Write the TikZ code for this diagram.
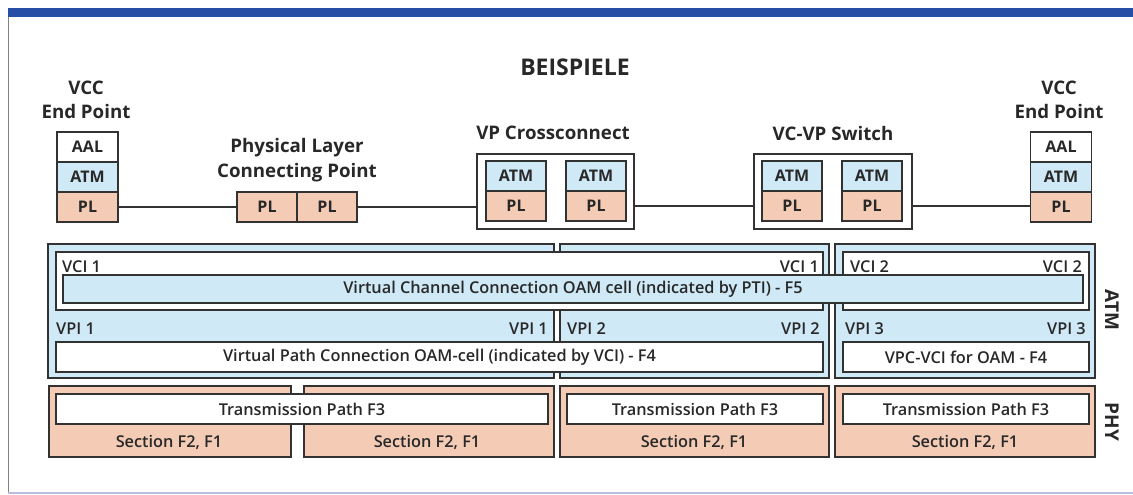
\documentclass[tikz,border=0pt]{standalone}
\usepackage{fontspec}
\setmainfont{Open Sans}
\IfFontExistsTF{Open Sans SemiBold}{\newfontfamily\medsans{Open Sans SemiBold}}{%
  \IfFontExistsTF{Open Sans Semibold}{\newfontfamily\medsans{Open Sans Semibold}}{%
    \newfontfamily\medsans{Open Sans}}}
\usetikzlibrary{positioning}
\definecolor{atmblue}{RGB}{207,233,246}
\definecolor{plsalmon}{RGB}{244,204,182}
\definecolor{framebar}{RGB}{38,78,166}
\definecolor{linegray}{RGB}{50,50,50}
\definecolor{textgray}{RGB}{40,40,40}
\definecolor{framegray}{RGB}{130,130,130}
\definecolor{bottomline}{RGB}{186,190,222}
\tikzset{
  layer/.style={draw=linegray, line width=1.5pt, minimum width=60pt, minimum height=30pt,
    inner sep=0pt, outer sep=0pt, text=textgray, font=\bfseries\fontsize{16}{18}\selectfont},
  atmlay/.style={layer, fill=atmblue},
  pllay/.style={layer, fill=plsalmon},
  caption/.style={text=textgray, align=center, font=\bfseries\fontsize{18.7}{24.5}\selectfont},
  region/.style={draw=linegray, line width=1.5pt},
  bar/.style={draw=linegray, line width=1.5pt, fill=white, inner sep=0pt, minimum height=30pt,
    text=textgray, font=\medsans\fontsize{16.3}{18}\selectfont},
  tag/.style={inner sep=0pt, text=textgray, font=\medsans\fontsize{16.3}{18}\selectfont},
  wire/.style={draw=linegray, line width=1.3pt},
}
\begin{document}
\begin{tikzpicture}[x=1pt, y=-1pt]
\useasboundingbox (0,0) rectangle (1133,495);
% frame
\fill[framebar] (8,8) rectangle (1133,17);
\draw[framegray, line width=1.2pt] (8.6,17) -- (8.6,493);
\draw[bottomline, line width=2pt] (8,493) -- (1133,493);
\node[caption, font=\bfseries\fontsize{23}{26}\selectfont] (title) at (575,67) {BEISPIELE};
% left end point
\node[caption] (capL) at (86,100) {VCC\\End Point};
\node[layer, fill=white, minimum width=61pt] (aalL) at (87.5,147) {AAL};
\node[atmlay, minimum width=61pt, below=0pt of aalL] (atmL) {ATM};
\node[pllay, minimum width=61pt, below=0pt of atmL] (plL) {PL};
% physical layer connecting point
\node[caption] (capP) at (297,160) {Physical Layer\\Connecting Point};
\node[pllay] (plA) at (267,207) {PL};
\node[pllay, right=0pt of plA] (plB) {PL};
% vp crossconnect
\node[caption] (capX) at (553,133) {VP Crossconnect};
\node[region, fill=white, minimum width=157pt, minimum height=75pt, inner sep=0pt] (vpx) at (555.5,191.5) {};
\node[atmlay] (atmX1) at (516,176) {ATM};
\node[pllay, below=0pt of atmX1] (plX1) {PL};
\node[atmlay] (atmX2) at (596,176) {ATM};
\node[pllay, below=0pt of atmX2] (plX2) {PL};
% vc-vp switch
\node[caption] (capS) at (833,133) {VC-VP Switch};
\node[region, fill=white, minimum width=158pt, minimum height=75pt, inner sep=0pt] (vcvp) at (833,191.5) {};
\node[atmlay] (atmS1) at (792,176) {ATM};
\node[pllay, below=0pt of atmS1] (plS1) {PL};
\node[atmlay] (atmS2) at (872,176) {ATM};
\node[pllay, below=0pt of atmS2] (plS2) {PL};
% right end point
\node[caption] (capR) at (1059,100) {VCC\\End Point};
\node[layer, fill=white, minimum width=61pt] (aalR) at (1061,147) {AAL};
\node[atmlay, minimum width=61pt, below=0pt of aalR] (atmR) {ATM};
\node[pllay, minimum width=61pt, below=0pt of atmR] (plR) {PL};
% wires
\draw[wire] (plL.east) -- (plL.east -| plA.west);
\draw[wire] (plB.east) -- (plB.east -| vpx.west);
\draw[wire] (plX2.east -| vpx.east) -- (plX2.east -| vcvp.west);
\draw[wire] (plS2.east -| vcvp.east) -- (plS2.east -| plR.west);
% atm layer
\draw[region, fill=atmblue] (48,244) rectangle (554,378);
\draw[region, fill=atmblue] (560,244) rectangle (829,378);
\draw[region, fill=atmblue] (835,244) rectangle (1095,378);
\draw[region, fill=white] (56,252) rectangle (823,310);
\draw[region, fill=white] (843,252) rectangle (1089,310);
\node[bar, fill=atmblue, minimum width=1020pt, minimum height=28pt] (vccbar) at (573,289)
  {Virtual Channel Connection OAM cell (indicated by PTI) - F5};
\node[bar, minimum width=767pt] (vpcbar) at (439.5,357)
  {Virtual Path Connection OAM-cell (indicated by VCI) - F4};
\node[bar, minimum width=246pt] (vpcvci) at (966,357) {VPC-VCI for OAM - F4};
\node[tag, anchor=west] (vci1a) at (62,267) {VCI 1};
\node[tag, anchor=east] (vci1b) at (819,267) {VCI 1};
\node[tag, anchor=west] (vci2a) at (850,267) {VCI 2};
\node[tag, anchor=east] (vci2b) at (1082,267) {VCI 2};
\node[tag, anchor=west] (vpi1a) at (56,329) {VPI 1};
\node[tag, anchor=east] (vpi1b) at (548,329) {VPI 1};
\node[tag, anchor=west] (vpi2a) at (567,329) {VPI 2};
\node[tag, anchor=east] (vpi2b) at (820,329) {VPI 2};
\node[tag, anchor=west] (vpi3a) at (845,329) {VPI 3};
\node[tag, anchor=east] (vpi3b) at (1086,329) {VPI 3};
\node[caption, rotate=-90, font=\bfseries\fontsize{19}{22}\selectfont] (atmlab) at (1112,310) {ATM};
% phy layer
\draw[region, fill=plsalmon] (49,386) rectangle (291,457);
\draw[region, fill=plsalmon] (304,386) rectangle (554,457);
\draw[region, fill=plsalmon] (560,386) rectangle (829,457);
\draw[region, fill=plsalmon] (835,386) rectangle (1095,457);
\node[bar, minimum width=492pt] (tp1) at (302,409) {Transmission Path F3};
\node[bar, minimum width=256pt] (tp2) at (695,409) {Transmission Path F3};
\node[bar, minimum width=246pt] (tp3) at (966,409) {Transmission Path F3};
\node[tag] (sec1) at (169,442) {Section F2, F1};
\node[tag] (sec2) at (427,442) {Section F2, F1};
\node[tag] (sec3) at (694,442) {Section F2, F1};
\node[tag] (sec4) at (965,442) {Section F2, F1};
\node[caption, rotate=-90, font=\bfseries\fontsize{19}{22}\selectfont] (phylab) at (1112,422) {PHY};
\end{tikzpicture}
\end{document}
